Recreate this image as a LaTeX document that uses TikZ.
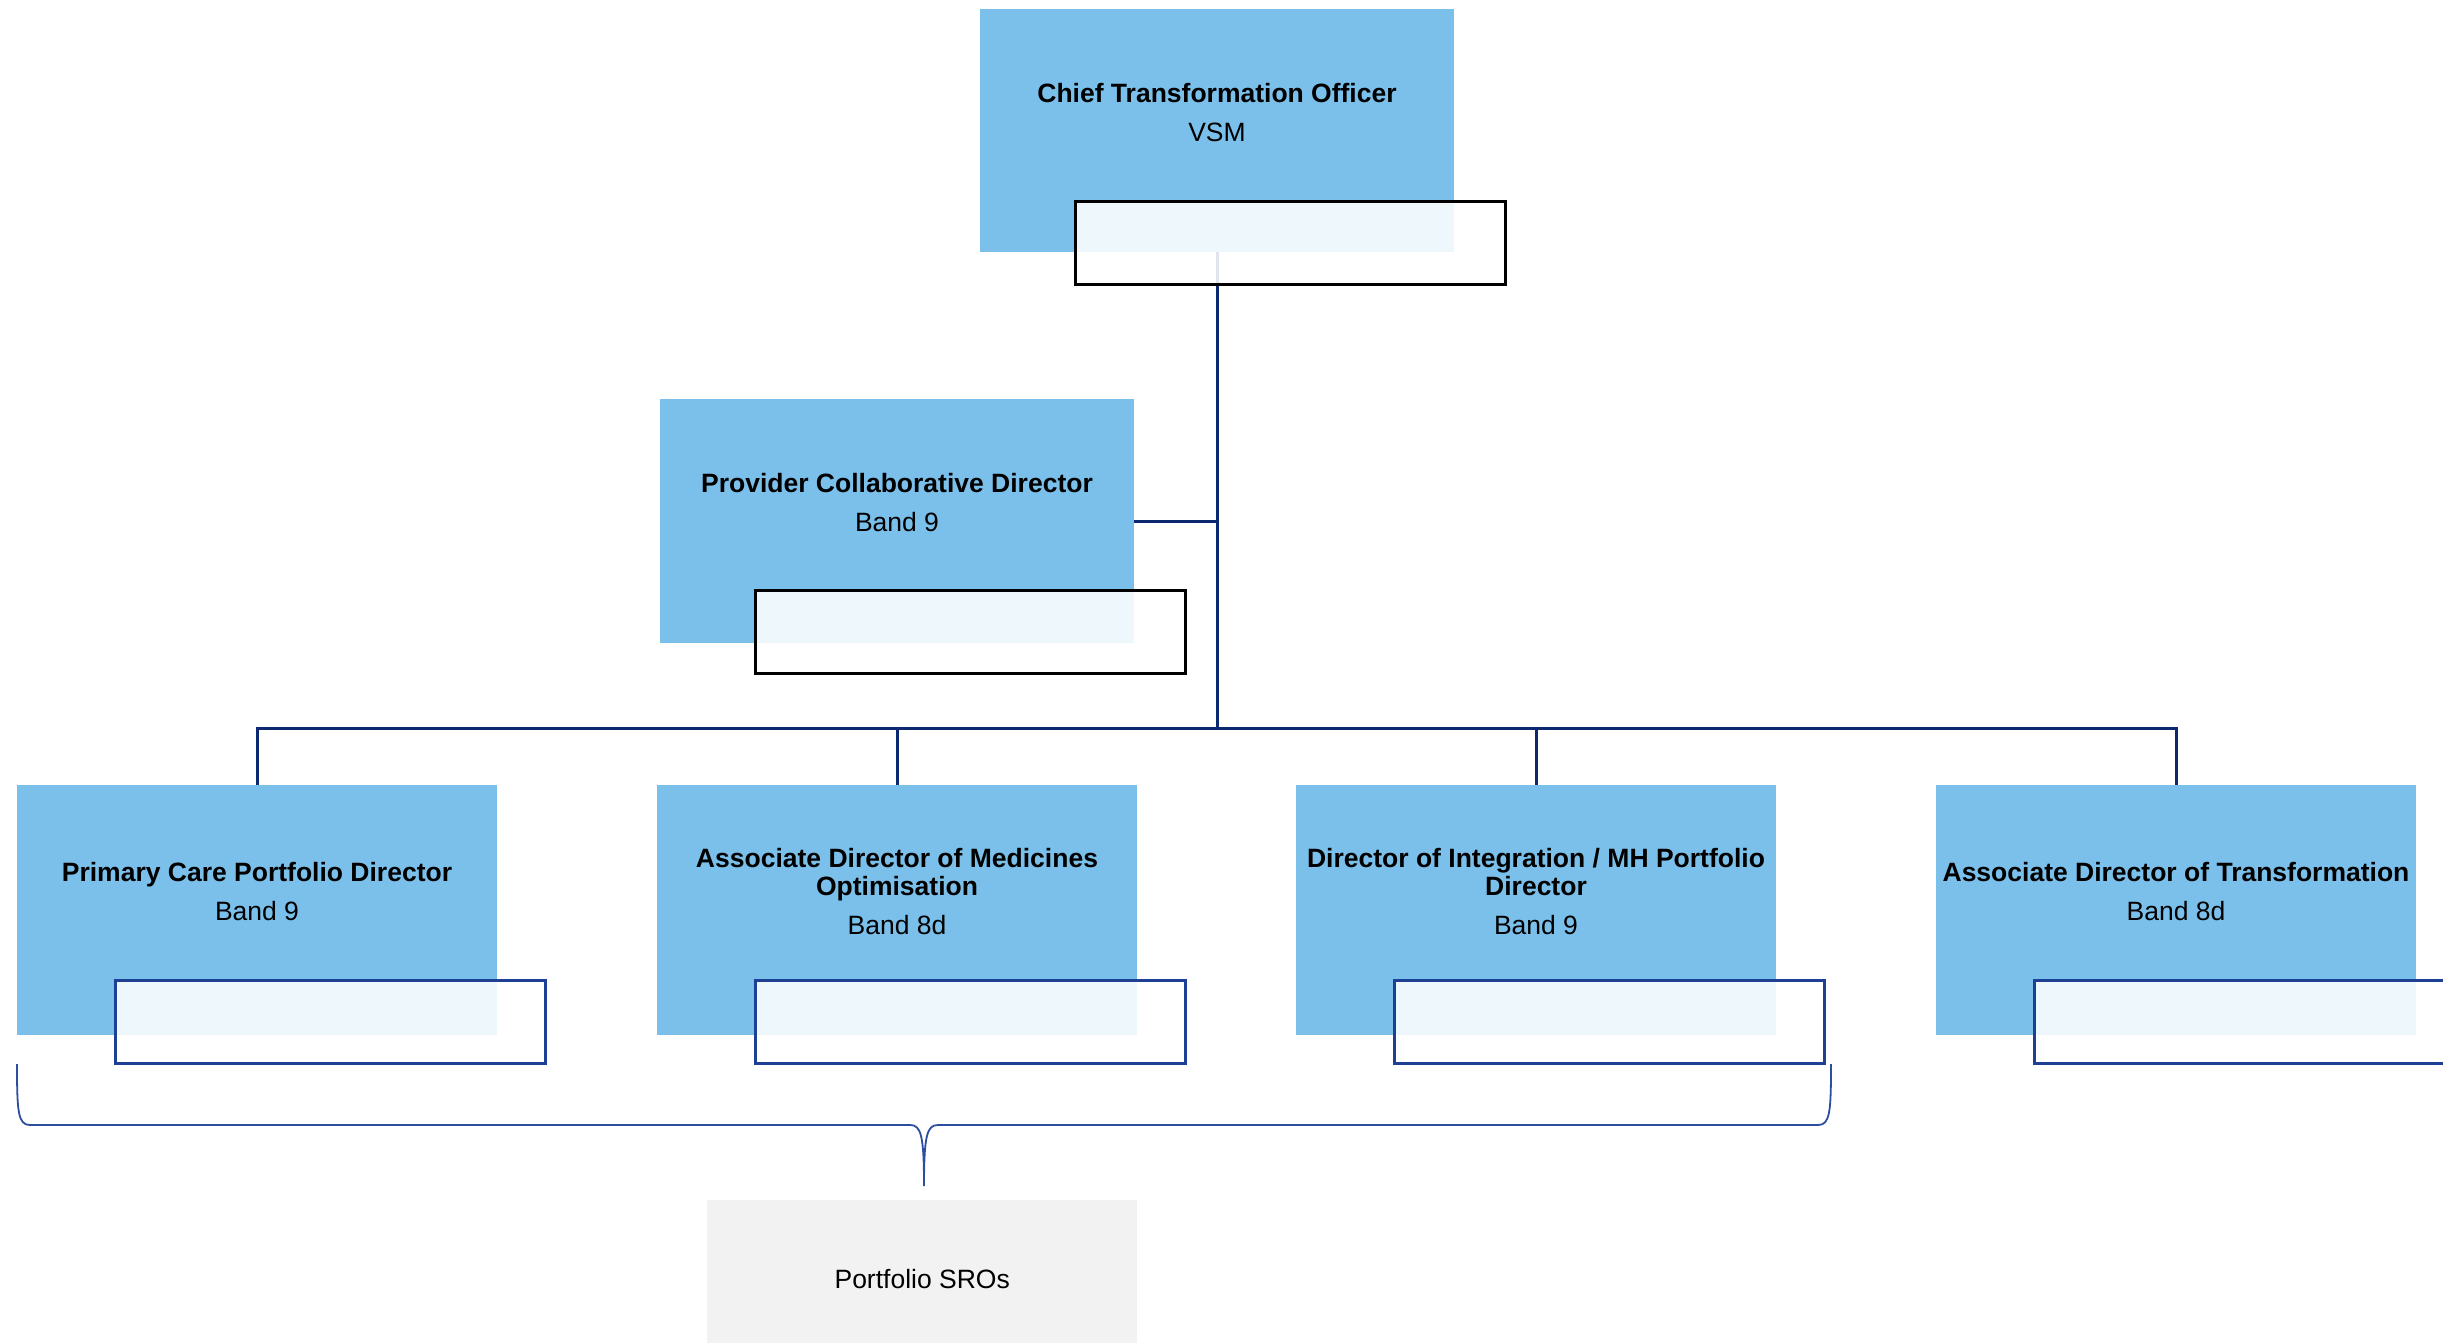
\documentclass[tikz,border=0pt]{standalone}
\usepackage{fontspec}
\setmainfont{Liberation Sans}
\definecolor{boxblue}{RGB}{122,192,235}
\definecolor{navy}{RGB}{12,40,112}
\definecolor{ovlblue}{RGB}{30,64,148}
\definecolor{bracecol}{RGB}{45,78,160}
\definecolor{srogray}{RGB}{242,242,242}
\begin{document}
\begin{tikzpicture}[x=1pt,y=-1pt,
  bluebox/.style={fill=boxblue, draw=none, inner sep=0pt, outer sep=0pt, anchor=north west,
    minimum width=480pt, minimum height=250pt},
  ovl/.style={fill=white, fill opacity=0.88, draw=#1, line width=2.6pt, inner sep=0pt,
    anchor=north west, minimum width=430pt, minimum height=83pt},
  txt/.style={font=\fontsize{26.5}{28}\selectfont, align=center, inner sep=0pt, text=black},
  conn/.style={draw=navy, line width=3pt},
  bracepath/.style={draw=bracecol, line width=1.8pt}]
\useasboundingbox (0,0) rectangle (2443,1342);
\clip (0,0) rectangle (2443,1342);
% blue boxes
\node[bluebox, minimum width=474pt, minimum height=243pt] (cto) at (980,9) {};
\node[bluebox, minimum width=474pt, minimum height=244pt] (pcd) at (660,399) {};
\node[bluebox] (pc) at (17,785) {};
\node[bluebox] (md) at (657,785) {};
\node[bluebox] (mh) at (1296,785) {};
\node[bluebox] (at) at (1936,785) {};
% connectors
\coordinate (bus) at (1217,728);
\draw[conn] (cto.south) -- (cto.south |- bus);
\draw[conn] (pcd.east) -- (pcd.east -| cto.south);
\draw[conn, line cap=rect] (pc.north |- bus) -- (at.north |- bus);
\draw[conn] (pc.north |- bus) -- (pc.north);
\draw[conn] (md.north |- bus) -- (md.north);
\draw[conn] (mh.north |- bus) -- (mh.north);
\draw[conn] (at.north |- bus) -- (at.north);
% overlays
\node[ovl=black] (ctoO) at (1074,200) {};
\node[ovl=black] (pcdO) at (754,589) {};
\node[ovl=ovlblue] (pcO) at (114,979) {};
\node[ovl=ovlblue] (mdO) at (754,979) {};
\node[ovl=ovlblue] (mhO) at (1393,979) {};
\node[ovl=ovlblue] (atO) at (2033,979) {};
% texts
\node[txt] (ctoT) at ([yshift=17.5pt]cto.center) {\textbf{Chief Transformation Officer}\\[11pt]VSM};
\node[txt] (pcdT) at ([yshift=18pt]pcd.center) {\textbf{Provider Collaborative Director}\\[11pt]Band 9};
\node[txt] (pcT) at ([yshift=18pt]pc.center) {\textbf{Primary Care Portfolio Director}\\[11pt]Band 9};
\node[txt] (mdT) at ([yshift=18pt]md.center) {\textbf{Associate Director of Medicines}\\\textbf{Optimisation}\\[11pt]Band 8d};
\node[txt] (mhT) at ([yshift=18pt]mh.center) {\textbf{Director of Integration / MH Portfolio}\\\textbf{Director}\\[11pt]Band 9};
\node[txt] (atT) at ([yshift=18pt]at.center) {\textbf{Associate Director of Transformation}\\[11pt]Band 8d};
% brace
\coordinate (brL) at (17,1064);
\coordinate (brR) at (1831,1064);
\coordinate (brTip) at (924,1186);
\draw[bracepath] (brL) .. controls (17,1112) and (18,1125) .. (30,1125)
  -- (910,1125) .. controls (921,1125) and (924,1135) .. (brTip)
  .. controls (924,1135) and (927,1125) .. (938,1125)
  -- (1818,1125) .. controls (1830,1125) and (1831,1112) .. (brR);
% Portfolio SROs
\node[fill=srogray, inner sep=0pt, anchor=north west, minimum width=430pt, minimum height=158pt] (sro) at (707,1200) {};
\node[txt] (sroT) at (sro.center) {Portfolio SROs};
\end{tikzpicture}
\end{document}
